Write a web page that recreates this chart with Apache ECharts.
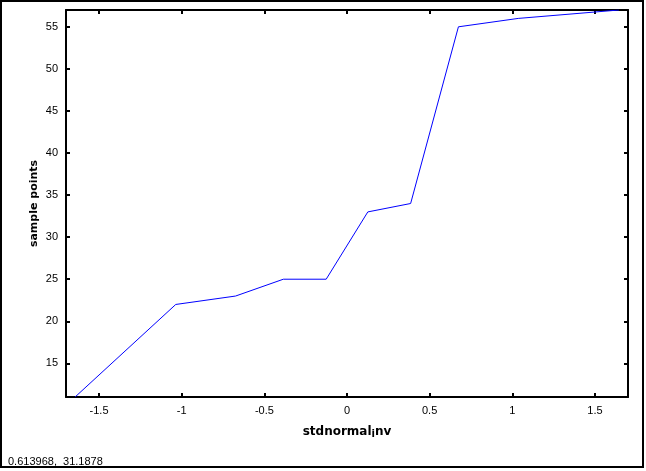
<!DOCTYPE html>
<html>
<head>
<meta charset="utf-8">
<script src="https://cdn.jsdelivr.net/npm/echarts@6/dist/echarts.min.js"></script>
<style>html,body{margin:0;padding:0;background:#fff;}#c{width:646px;height:471px;}</style>
</head>
<body>
<div id="c"></div>
<script>
var xValues = [-1.645, -1.036, -0.674, -0.385, -0.126, 0.126, 0.385, 0.674, 1.036, 1.645];
var yValues = [11, 22, 23, 25, 25, 33, 34, 55, 56, 57];
var xTitle = 'stdnormal_inv';
var yTitle = 'sample points';
var statusText = '0.613968,  31.1878';

var chart = echarts.init(document.getElementById('c'));
var pts = xValues.map(function (x, i) { return [x, yValues[i]]; });
var lblFont = { color: '#000', fontFamily: 'Liberation Sans', fontSize: 11 };
function mkX(pos, show) {
  return {
    type: 'value', position: pos, min: -1.7, max: 1.7, splitNumber: 7,
    axisLine: { show: true, onZero: false, lineStyle: { color: '#000', width: 2 } },
    axisTick: { show: true, inside: true, length: 4, lineStyle: { color: '#000', width: 2 } },
    axisLabel: Object.assign({ show: show, margin: 8, showMinLabel: false, showMaxLabel: false }, lblFont),
    splitLine: { show: false }
  };
}
function mkY(pos, show) {
  return {
    type: 'value', position: pos, min: 11, max: 57, splitNumber: 9,
    axisLine: { show: true, onZero: false, lineStyle: { color: '#000', width: 2 } },
    axisTick: { show: true, inside: true, length: 4, lineStyle: { color: '#000', width: 2 } },
    axisLabel: Object.assign({ show: show, margin: 8, showMinLabel: false, showMaxLabel: false }, lblFont),
    splitLine: { show: false }
  };
}
var xa = mkX('bottom', true);
xa.name = '{a|stdnormal}{s|i}{a|nv}';
xa.nameLocation = 'middle';
xa.nameGap = 28;
xa.nameTextStyle = {
  rich: {
    a: { fontFamily: 'DejaVu Sans', fontWeight: 'bold', fontSize: 12, color: '#000' },
    s: { fontFamily: 'DejaVu Sans', fontWeight: 'bold', fontSize: 10, color: '#000', padding: [4, 0, 0, 0] }
  }
};
var ya = mkY('left', true);
ya.name = yTitle;
ya.nameLocation = 'middle';
ya.nameGap = 26;
ya.nameMoveOverlap = false;
ya.nameTextStyle = { fontFamily: 'DejaVu Sans', fontWeight: 'bold', fontSize: 11, color: '#000' };

chart.setOption({
  animation: false,
  grid: { left: 66, top: 10, right: 18, bottom: 74, containLabel: false },
  xAxis: [xa, mkX('top', false)],
  yAxis: [ya, mkY('right', false)],
  series: [{
    type: 'line', data: pts, showSymbol: false, symbol: 'none',
    lineStyle: { color: '#0000ff', width: 1 }, clip: true
  }],
  graphic: [
    { type: 'rect', shape: { x: 1, y: 1, width: 642, height: 466 }, style: { fill: 'none', stroke: '#000', lineWidth: 2 }, silent: true },
    { type: 'text', left: 8, top: 456, style: { text: statusText, fill: '#000', font: '11px "Liberation Sans"' } }
  ]
});
</script>
</body>
</html>
